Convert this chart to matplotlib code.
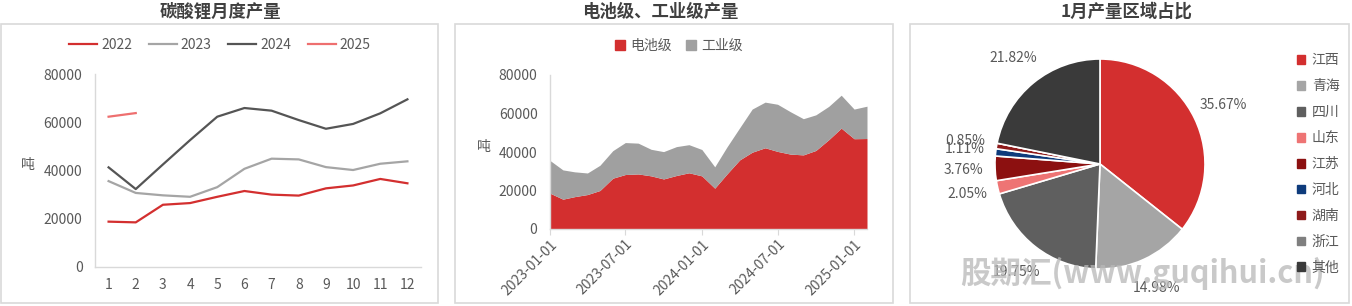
import numpy as np
import pandas as pd
import matplotlib
matplotlib.use("Agg")
import matplotlib.pyplot as plt
import matplotlib.dates as mdates
from matplotlib.patches import Rectangle, Patch

plt.rcParams['font.family'] = ['Noto Sans CJK SC', 'DejaVu Sans']

# panel 1: monthly output by year (tonnes)
months = list(range(1, 13))
y2022 = [18800, 18500, 25800, 26500, 29100, 31500, 30000, 29600, 32600, 33800, 36500, 34700]
y2023 = [35600, 30700, 29700, 29100, 33100, 40700, 44900, 44600, 41400, 40200, 42800, 43800]
y2024 = [41300, 32300, 42500, 52600, 62300, 65900, 64800, 60900, 57300, 59300, 63700, 69500]
y2025 = [62300, 63800]

# panel 2: battery grade / industrial grade, 2023-01 .. 2025-02
battery = [18600, 15500, 16800, 17900, 20000, 26400, 28300, 28600, 27600, 26000, 27800, 29200,
           27600, 21200, 28500, 35900, 39900, 42200, 40300, 38900, 38500, 40800, 46400, 52400,
           46900, 47000]
industrial = [17000, 15200, 12900, 11200, 13100, 14300, 16600, 16000, 13800, 14200, 15000, 14600,
              13700, 11100, 14000, 16700, 22400, 23700, 24500, 22000, 18800, 18500, 17300, 17100,
              15400, 16800]

# panel 3: January share by region (%)
regions = ['江西', '青海', '四川', '山东', '江苏', '河北', '湖南', '浙江', '其他']
shares = [35.67, 14.98, 19.75, 2.05, 3.76, 1.11, 0.85, 0.0, 21.82]
region_colors = ['#D32F2F', '#A5A5A5', '#5F5F5F', '#EE7474', '#8C1010', '#0E3B7C',
                 '#8E1B1B', '#7F7F7F', '#3A3A3A']

W, H = 1352, 306
fig = plt.figure(figsize=(W / 100, H / 100), dpi=100)

TXT = '#595959'
SPINE = '#D9D9D9'


def fx(px):
    return px / W


def fy(py):
    return 1 - py / H


# panel frames and titles
for x0, x1, title, cx in [(1, 438, '碳酸锂月度产量', 220),
                          (455, 893, '电池级、工业级产量', 660),
                          (910, 1349, '1月产量区域占比', 1127)]:
    fig.patches.append(Rectangle((fx(x0), fy(303)), fx(x1 - x0), (303 - 24) / H,
                                 transform=fig.transFigure, fill=False,
                                 edgecolor='#D9D9D9', linewidth=1.2))
    fig.text(fx(cx), fy(12), title, ha='center', va='center', fontsize=12.5,
             fontweight='bold', color='#404040')


def style_axes(ax):
    for s in ['top', 'right']:
        ax.spines[s].set_visible(False)
    for s in ['left', 'bottom']:
        ax.spines[s].set_color(SPINE)
        ax.spines[s].set_linewidth(1.0)
    ax.tick_params(axis='both', colors=TXT, labelsize=10)
    ax.tick_params(axis='y', length=0, pad=9)


# ---- panel 1 ----
ax1 = fig.add_axes([fx(95), fy(267), fx(421 - 95), (267 - 74) / H])
ax1.plot(months, y2022, color='#D32F2F', lw=1.6, label='2022')
ax1.plot(months, y2023, color='#A5A5A5', lw=1.6, label='2023')
ax1.plot(months, y2024, color='#555555', lw=1.6, label='2024')
ax1.plot(months[:len(y2025)], y2025, color='#EE6F6F', lw=1.6, label='2025')
ax1.set_xlim(0.5, 12.5)
ax1.set_ylim(0, 80000)
ax1.set_xticks(months)
ax1.set_yticks(range(0, 80001, 20000))
style_axes(ax1)
ax1.tick_params(axis='x', length=0, pad=8)
ax1.set_ylabel('吨', rotation=0, color=TXT, fontsize=10)
ax1.yaxis.set_label_coords(-0.205, 0.49)
ax1.legend(loc='center', bbox_to_anchor=(fx(220), fy(45)), bbox_transform=fig.transFigure,
           ncol=4, frameon=False, fontsize=10, labelcolor=TXT, handlelength=2.0,
           columnspacing=1.2, handletextpad=0.3)

# ---- panel 2 ----
dates = pd.date_range('2023-01-01', periods=len(battery), freq='MS')
total = np.array(battery) + np.array(industrial)
ax2 = fig.add_axes([fx(550), fy(229), fx(867 - 550), (229 - 75) / H])
ax2.fill_between(dates, 0, battery, color='#D32F2F', lw=0, label='电池级')
ax2.fill_between(dates, battery, total, color='#A0A0A0', lw=0, label='工业级')
ax2.set_xlim(dates[0], dates[-1])
ax2.set_ylim(0, 80000)
ax2.set_yticks(range(0, 80001, 20000))
ax2.xaxis.set_major_locator(mdates.MonthLocator(bymonth=[1, 7]))
ax2.xaxis.set_major_formatter(mdates.DateFormatter('%Y-%m-%d'))
style_axes(ax2)
ax2.tick_params(axis='x', length=4, color=SPINE, pad=2)
for lab in ax2.get_xticklabels():
    lab.set_rotation(45)
    lab.set_ha('right')
    lab.set_rotation_mode('anchor')
ax2.set_ylabel('吨', rotation=0, color=TXT, fontsize=10)
ax2.yaxis.set_label_coords(-0.21, 0.49)
h2 = [Patch(color='#D32F2F'), Patch(color='#A0A0A0')]
ax2.legend(h2, ['电池级', '工业级'], loc='center', bbox_to_anchor=(fx(679), fy(46)),
           bbox_transform=fig.transFigure, ncol=2, frameon=False, fontsize=10,
           labelcolor=TXT, handlelength=0.7, handleheight=0.7, handletextpad=0.4,
           columnspacing=1.0)

# ---- panel 3 ----
R = 105
ax3 = fig.add_axes([fx(1100 - R), fy(164 + R), fx(2 * R), 2 * R / H])
wedges, _, autotexts = ax3.pie(shares, colors=region_colors, startangle=90, counterclock=False,
                               autopct=lambda p: f'{p:.2f}%' if p > 0 else '',
                               pctdistance=1.3,
                               wedgeprops=dict(edgecolor='white', linewidth=1.2),
                               textprops=dict(color=TXT, fontsize=10))
ax3.set_xlim(-1, 1)
ax3.set_ylim(-1, 1)
ax3.set_aspect('equal')
h3 = [Patch(color=c) for c in region_colors]
fig.legend(h3, regions, loc='center left', bbox_to_anchor=(fx(1284), fy(164)),
           frameon=False, fontsize=10, labelcolor=TXT, handlelength=0.6, handleheight=0.6,
           handletextpad=0.5, labelspacing=0.86)

# watermark
fig.text(fx(1142), fy(273), '股期汇(www.guqihui.cn)', ha='center', va='center', fontsize=22,
         fontweight='bold', style='italic', color='#B8B8B8', alpha=0.75)

fig.savefig('out.png', dpi=100)
